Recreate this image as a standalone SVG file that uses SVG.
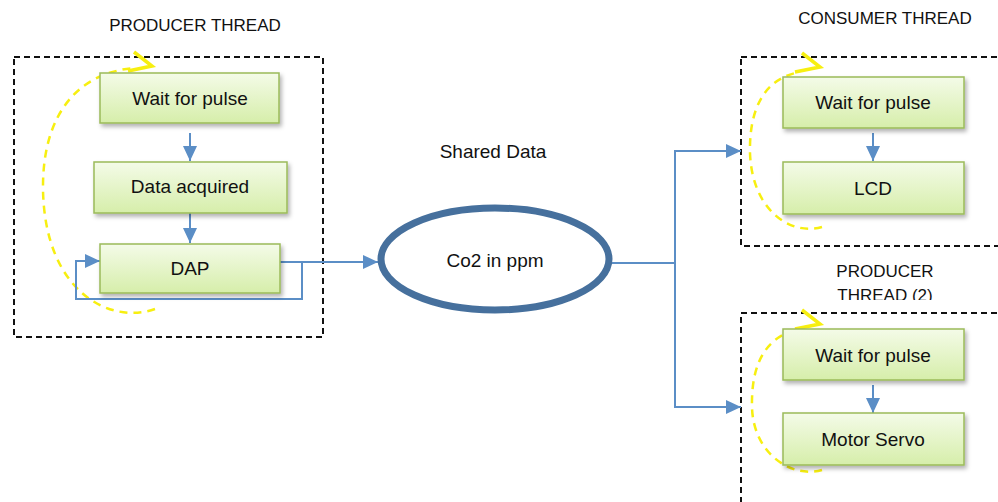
<svg xmlns="http://www.w3.org/2000/svg" width="998" height="502" viewBox="0 0 998 502">
<defs>
<linearGradient id="g" x1="0" y1="0" x2="0" y2="1">
<stop offset="0" stop-color="#f4fbe8"/>
<stop offset="1" stop-color="#d6eeaa"/>
</linearGradient>
<filter id="sh" x="-10%" y="-20%" width="130%" height="160%">
<feDropShadow dx="2" dy="3" stdDeviation="2" flood-color="#000" flood-opacity="0.3"/>
</filter>
<marker id="ab" markerUnits="userSpaceOnUse" markerWidth="16" markerHeight="14" refX="15" refY="7" orient="auto">
<path d="M0,0 L15,7 L0,14 Z" fill="#5b8ec6"/>
</marker>
<clipPath id="clipT"><rect x="700" y="250" width="298" height="50"/></clipPath>
<style>
.box{fill:url(#g);stroke:#9bbb59;stroke-width:1.5;filter:url(#sh)}
.frame{fill:none;stroke:#111;stroke-width:2;stroke-dasharray:6,4}
.t{font-family:"Liberation Sans",Arial,sans-serif;font-size:19px;fill:#111;text-anchor:middle}
.h{font-family:"Liberation Sans",Arial,sans-serif;font-size:17px;fill:#111;text-anchor:middle}
.c{fill:none;stroke:#5b8ec6;stroke-width:2}
.y{fill:none;stroke:#f7ef10;stroke-width:2.5;stroke-dasharray:8,6}
.ya{fill:none;stroke:#f7ef10;stroke-width:3.5;stroke-linejoin:miter}
</style>
</defs>

<g id="frames">
<rect class="frame" x="14" y="57" width="309" height="280"/>
<rect class="frame" x="741" y="57" width="280" height="189"/>
<rect class="frame" x="741" y="313" width="280" height="210"/>
</g>

<g id="titles">
<text class="h" x="195" y="31">PRODUCER THREAD</text>
<text class="h" x="885" y="24">CONSUMER THREAD</text>
<g clip-path="url(#clipT)">
<text class="h" x="885" y="277">PRODUCER</text>
<text class="h" x="885" y="301">THREAD (2)</text>
</g>
<text class="t" x="493" y="158">Shared Data</text>
</g>

<g id="loops">
<path class="y" d="M155,309 C110,325 45,292 43,190 C42,112 80,72 135,68"/>
<polyline class="ya" points="134,52 152,66 128,71"/>
<path class="y" d="M822,227 C790,236 752,210 750,153 C749,108 765,78 800,72"/>
<polyline class="ya" points="802,53 820,67 795,72"/>
<path class="y" d="M822,470 C790,479 753,452 752,407 C751,365 765,336 800,329"/>
<polyline class="ya" points="802,310 820,324 795,329"/>
</g>

<g id="connectors">
<line class="c" x1="190" y1="133" x2="190" y2="161" marker-end="url(#ab)"/>
<line class="c" x1="190" y1="213" x2="190" y2="243" marker-end="url(#ab)"/>
<line class="c" x1="280" y1="262" x2="378" y2="262" marker-end="url(#ab)"/>
<polyline class="c" points="302,262 302,299 76,299 76,261 100,261" marker-end="url(#ab)"/>
<polyline class="c" points="612,263 675,263"/>
<line class="c" x1="675" y1="150" x2="675" y2="408"/>
<polyline class="c" points="675,151 741,151" marker-end="url(#ab)"/>
<polyline class="c" points="675,407 741,407" marker-end="url(#ab)"/>
<line class="c" x1="873" y1="133" x2="873" y2="161" marker-end="url(#ab)"/>
<line class="c" x1="873" y1="385" x2="873" y2="413" marker-end="url(#ab)"/>
</g>

<g id="n-wait1"><rect class="box" x="100" y="73" width="179" height="50"/><text class="t" x="190" y="105">Wait for pulse</text></g>
<g id="n-data"><rect class="box" x="94" y="162" width="193" height="51"/><text class="t" x="190" y="193">Data acquired</text></g>
<g id="n-dap"><rect class="box" x="100" y="244" width="180" height="49"/><text class="t" x="190" y="275">DAP</text></g>

<g id="n-shared"><ellipse cx="495" cy="259" rx="114" ry="51" fill="#fff" stroke="#46709d" stroke-width="7"/><text class="t" x="495" y="267">Co2 in ppm</text></g>

<g id="n-wait2"><rect class="box" x="783" y="77" width="181" height="51"/><text class="t" x="873" y="109">Wait for pulse</text></g>
<g id="n-lcd"><rect class="box" x="783" y="162" width="181" height="52"/><text class="t" x="873" y="195">LCD</text></g>
<g id="n-wait3"><rect class="box" x="783" y="329" width="181" height="51"/><text class="t" x="873" y="362">Wait for pulse</text></g>
<g id="n-servo"><rect class="box" x="783" y="413" width="181" height="52"/><text class="t" x="873" y="446">Motor Servo</text></g>
</svg>
